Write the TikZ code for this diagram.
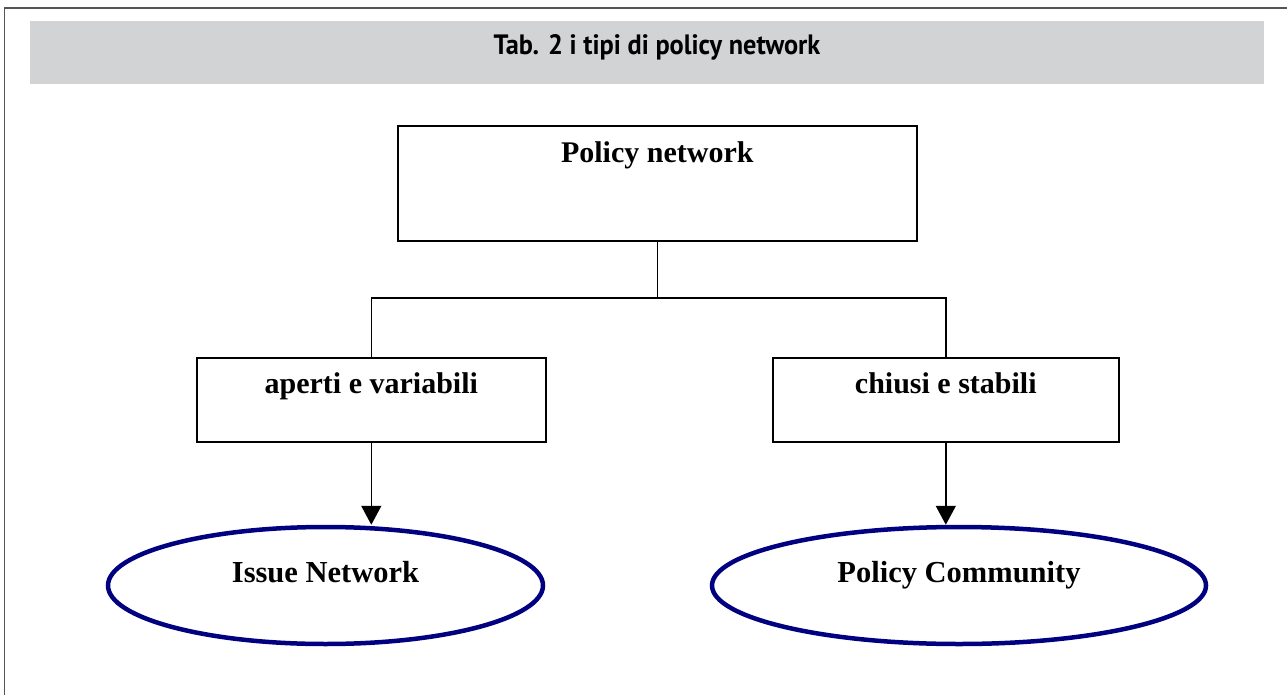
\documentclass[tikz,border=0pt]{standalone}
\usepackage{fontspec}
\setmainfont{Liberation Serif}
\newfontfamily\headfont[FakeStretch=0.94]{PT Sans}
\usetikzlibrary{arrows.meta,shapes.geometric}
\definecolor{bandgray}{RGB}{209,211,212}
\definecolor{framegray}{RGB}{85,85,85}
\definecolor{ovalblue}{RGB}{0,0,128}
\tikzset{
  textbox/.style={draw=black, line width=1.6pt, inner sep=0pt, align=center,
    font=\fontsize{30}{36}\selectfont\bfseries},
  oval/.style={ellipse, draw=ovalblue, line width=4.5pt, inner sep=0pt,
    text height=22pt, text depth=29pt,
    font=\fontsize{30.5}{36}\selectfont\bfseries},
  link/.style={draw=black, line width=1.6pt},
  arrowlink/.style={link, -{Triangle[width=20pt,length=19pt]}}
}
\begin{document}
\begin{tikzpicture}[x=1pt,y=-1pt]
  \useasboundingbox (0,0) rectangle (1287,695);
  % outer frame: only top and left edges are visible
  \draw[framegray, line width=1.6pt] (4.5,695) -- (4.5,8) -- (1287,8);
  % title band and heading
  \node[fill=bandgray, inner sep=0pt, minimum width=1234pt, minimum height=63pt,
        anchor=north west] (header) at (30,21) {};
  \node[anchor=base, inner sep=0pt, font=\headfont\bfseries\fontsize{28}{33}\selectfont]
        (title) at (657,55) {Tab. 2 i tipi di policy network};
  % boxes
  \node[textbox, anchor=north west, minimum width=519pt, text height=37pt, text depth=78pt]
        (root) at (397,125) {Policy network};
  \node[textbox, anchor=north west, minimum width=349pt, text height=36pt, text depth=48pt]
        (open) at (196,357) {aperti e variabili};
  \node[textbox, anchor=north west, minimum width=346pt, text height=36pt, text depth=48pt]
        (closed) at (772,357) {chiusi e stabili};
  % ovals
  \node[oval, minimum width=435pt, minimum height=117pt] (issue) at (325.5,585.5) {Issue Network};
  \node[oval, minimum width=494pt, minimum height=117pt] (community) at (959,585.5) {Policy Community};
  % tree connectors
  \coordinate (split) at (root.south |- 0,298);
  \draw[link] (root.south) -- (split);
  \draw[link] (split) -| (open.north);
  \draw[link] (split) -| (closed.north);
  \draw[arrowlink] (open.south) -- (open.south |- issue.north);
  \draw[arrowlink] (closed.south) -- (closed.south |- community.north);
\end{tikzpicture}
\end{document}
